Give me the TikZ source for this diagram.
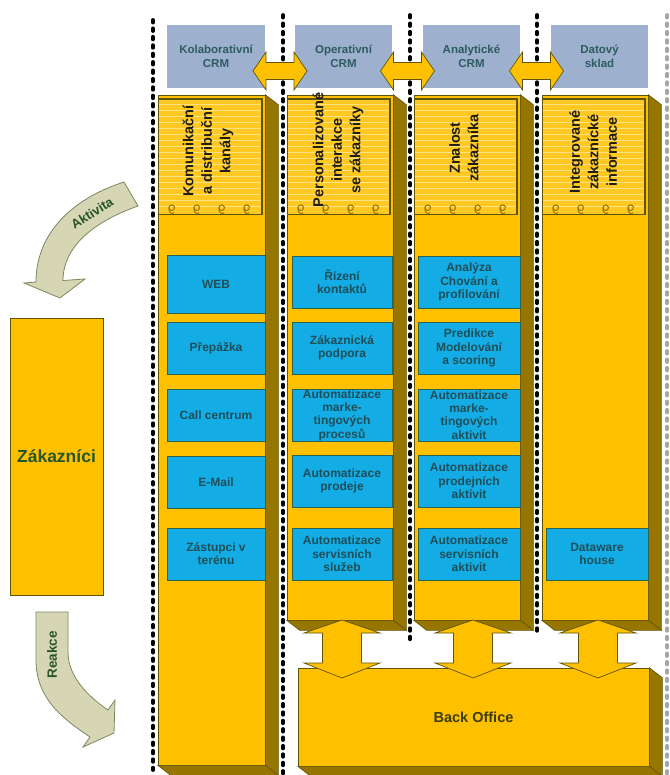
\documentclass[tikz,border=0pt]{standalone}
\usepackage{fontspec}
\setmainfont{Liberation Sans}
\usetikzlibrary{calc}

\definecolor{crmgold}{RGB}{255,192,0}
\definecolor{crmside}{RGB}{150,118,0}
\definecolor{crmedge}{RGB}{95,85,10}
\definecolor{paper}{RGB}{255,200,35}
\definecolor{paperline}{RGB}{255,226,130}
\definecolor{crmblue}{RGB}{20,172,228}
\definecolor{boxline}{RGB}{45,100,80}
\definecolor{bluetext}{RGB}{32,78,88}
\definecolor{headfill}{RGB}{157,176,205}
\definecolor{headtext}{RGB}{45,92,96}
\definecolor{notetext}{RGB}{30,30,20}
\definecolor{khaki}{RGB}{214,214,180}
\definecolor{khakiedge}{RGB}{125,135,95}
\definecolor{greentext}{RGB}{40,85,40}
\definecolor{oliveblack}{RGB}{60,60,15}

\begin{document}
\begin{tikzpicture}[x=1pt,y=-1pt,
  pillar/.style={draw=crmedge, fill=crmgold, line width=0.6pt, inner sep=0pt},
  face/.style={draw=crmedge, fill=crmside, line width=0.6pt},
  func/.style={draw=boxline, fill=crmblue, text=bluetext, line width=0.7pt, inner sep=0pt,
    minimum height=52pt, align=center, font=\fontsize{12}{13.3}\selectfont\bfseries},
  crmhead/.style={fill=headfill, text=headtext, minimum width=97pt, minimum height=63pt,
    inner sep=0pt, align=center, font=\fontsize{11.5}{13.5}\selectfont\bfseries},
  notelabel/.style={rotate=90, align=center, text=notetext, font=\fontsize{14.5}{18.5}\selectfont\bfseries},
  blockarrow/.style={draw=crmedge, fill=crmgold, line width=0.7pt},
  bentarrow/.style={draw=khakiedge, fill=khaki, line width=0.8pt},
  sepline/.style={line width=3.8pt, line cap=round, dash pattern=on 2.6pt off 5.8pt}
]
\useasboundingbox (0,0) rectangle (669,775);

% pillars
\node[pillar, minimum width=107, minimum height=670] (col1) at (211.5,430) {};
\node[pillar, minimum width=106, minimum height=525] (col2) at (340,357.5) {};
\node[pillar, minimum width=106, minimum height=525] (col3) at (467,357.5) {};
\node[pillar, minimum width=106, minimum height=525] (col4) at (595,357.5) {};

\foreach \c in {col1,col2,col3,col4} {
  \draw[face] (\c.north east) -- ++(13,10) -- ($(\c.south east)+(13,10)$) -- (\c.south east) -- cycle;
  \draw[face] (\c.south west) -- (\c.south east) -- ++(13,10) -- ($(\c.south west)+(13,10)$) -- cycle;
  % notebook
  \fill[paper] ($(\c.north west)+(1,4)$) rectangle ($(\c.north east)+(-3,120)$);
  \foreach \k in {1,...,18}
    \draw[paperline, line width=0.5pt] ($(\c.north west)+(1,4+6*\k)$) -- ($(\c.north east)+(-3,4+6*\k)$);
  \draw[crmedge, line width=1.8pt] ($(\c.north west)+(1,4)$) -- ($(\c.north east)+(-3,4)$) -- ($(\c.north east)+(-3,120)$);
  \draw[crmedge, line width=0.9pt] ($(\c.north west)+(1,120)$) -- ($(\c.north east)+(-3,120)$);
  \foreach \k in {14,39,64,89} {
    \draw[crmside, line width=1pt] ($(\c.north west)+(\k,113)$) circle (2.8pt);
    \draw[crmside, line width=1pt] ($(\c.north west)+(\k-2.8,113)$) .. controls ($(\c.north west)+(\k-3,119)$) and ($(\c.north west)+(\k+1,120)$) .. ($(\c.north west)+(\k+2.5,118)$);
  }
}

\node[notelabel] (kanaly) at (208,151) {Komunikační\\a distribuční\\kanály};
\node[notelabel] (interakce) at (338,150) {Personalizované\\interakce\\se zákazníky};
\node[notelabel] (znalost) at (464,148) {Znalost\\zákazníka};
\node[notelabel] (integ) at (593,152) {Integrované\\zákaznícké\\informace};

% functions
\node[func, minimum width=98, minimum height=58] (web) at (216,284) {WEB};
\node[func, minimum width=98] (prepazka) at (216,348) {Přepážka};
\node[func, minimum width=98] (call) at (216,415) {Call centrum};
\node[func, minimum width=98] (email) at (216,482.5) {E-Mail};
\node[func, minimum width=98] (zastupci) at (216,554) {Zástupci v\\terénu};

\node[func, minimum width=100] (rizeni) at (342,282) {Řízení\\kontaktů};
\node[func, minimum width=100] (podpora) at (342,348) {Zákaznická\\podpora};
\node[func, minimum width=100] (mkproc) at (342,415) {Automatizace\\marke-\\tingových\\procesů};
\node[func, minimum width=100] (prodej) at (342,481) {Automatizace\\prodeje};
\node[func, minimum width=100] (servis) at (342,554) {Automatizace\\servisních\\služeb};

\node[func, minimum width=102] (analyza) at (469,282) {Analýza\\Chování a\\profilování};
\node[func, minimum width=102] (predikce) at (469,348) {Predikce\\Modelování\\a scoring};
\node[func, minimum width=102] (mkakt) at (469,415) {Automatizace\\marke-\\tingových\\aktivit};
\node[func, minimum width=102] (prodakt) at (469,481) {Automatizace\\prodejních\\aktivit};
\node[func, minimum width=102] (servakt) at (469,554) {Automatizace\\servisních\\aktivit};

\node[func, minimum width=102] (dwh) at (597,554) {Dataware\\house};

% back office
\node[pillar, minimum width=351, minimum height=98, text=oliveblack,
  font=\fontsize{14.5}{17}\selectfont\bfseries] (back) at (473.5,717) {Back Office};
\draw[face] (back.north east) -- ++(13,10) -- ($(back.south east)+(13,10)$) -- (back.south east) -- cycle;
\draw[face] (back.south west) -- (back.south east) -- ++(13,10) -- ($(back.south west)+(13,10)$) -- cycle;

\foreach \cx in {342,473,598}
  \draw[blockarrow] (\cx,620) -- (\cx+38,633) -- (\cx+19.5,633) -- (\cx+19.5,663) -- (\cx+38,663)
    -- (\cx,678) -- (\cx-38,663) -- (\cx-19.5,663) -- (\cx-19.5,633) -- (\cx-38,633) -- cycle;

% separators
\draw[sepline] (153,20) -- (153,770);
\draw[sepline] (283,15) -- (283,775);
\draw[sepline] (410,15) -- (410,640);
\draw[sepline] (537,15) -- (537,635);
\draw[sepline, gray!70] (667,15) -- (667,775);

% CRM types
\node[crmhead, minimum width=98] (kolab) at (216,56.5) {Kolaborativní\\CRM};
\node[crmhead] (oper) at (343.5,56.5) {Operativní\\CRM};
\node[crmhead] (analyt) at (471.5,56.5) {Analytické\\CRM};
\node[crmhead] (datsk) at (599.5,56.5) {Datový\\sklad};

\foreach \cx in {280,407.5,536.5}
  \draw[blockarrow] (\cx-27,71) -- (\cx-14,52) -- (\cx-14,62.5) -- (\cx+14,62.5) -- (\cx+14,52)
    -- (\cx+27,71) -- (\cx+14,90) -- (\cx+14,79.5) -- (\cx-14,79.5) -- (\cx-14,90) -- cycle;

% customers
\node[draw=crmedge, fill=crmgold, line width=0.6pt, minimum width=93, minimum height=277, text=greentext,
  font=\fontsize{17.5}{20}\selectfont\bfseries] (cust) at (56.5,456.5) {Zákazníci};

\draw[bentarrow] (124,182) .. controls (74,198) and (36,232) .. (36,282) -- (24,283) -- (60,298) -- (85,279)
  -- (63,280.5) .. controls (63,247) and (93,222) .. (138,206) -- cycle;
\node[rotate=32, text=greentext, font=\fontsize{13}{15}\selectfont\bfseries] (aktivita) at (92,213) {Aktivita};

\draw[bentarrow] (36,612) -- (68,612) -- (68,652) .. controls (68,680) and (94,700.5) .. (108,710)
  -- (115,700) -- (114,733) -- (83,747) -- (90,737) .. controls (65,720) and (36,700) .. (36,660) -- cycle;
\node[rotate=90, text=greentext, font=\fontsize{13.5}{15}\selectfont\bfseries] (reakce) at (52,655) {Reakce};
\end{tikzpicture}
\end{document}
